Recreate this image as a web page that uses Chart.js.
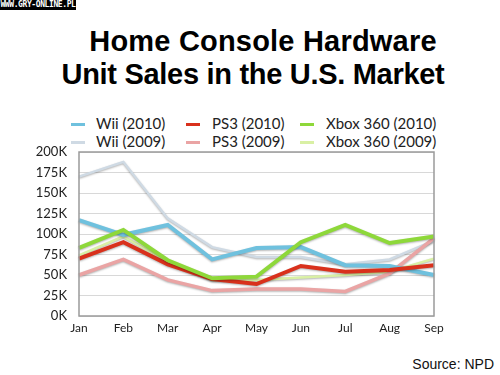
<!DOCTYPE html>
<html>
<head>
<meta charset="utf-8">
<script src="https://cdn.jsdelivr.net/npm/chart.js@4/dist/chart.umd.min.js"></script>
<style>
  body { margin: 0; width: 500px; height: 375px; background: #fff; position: relative; overflow: hidden; font-family: Lato, sans-serif; }
  #wm { position: absolute; left: 0; top: 0; width: 76px; height: 10px; background: #000; color: #fff; font: bold 8px "DejaVu Sans Mono", monospace; line-height: 10px; letter-spacing: -0.4px; text-align: center; }
  .title { position: absolute; width: 500px; text-align: center; font: bold 29px "Liberation Sans", Arial, sans-serif; color: #000; }
  #legend .item { position: absolute; font-size: 15px; color: #222; line-height: 16px; }
  #legend .swatch { position: absolute; width: 14px; height: 3px; }
  #source { position: absolute; right: 6px; top: 356px; font: 14px "Liberation Sans", Arial, sans-serif; color: #111; }
  canvas { position: absolute; left: 0; top: 0; }
</style>
</head>
<body>
<div id="wm">WWW.GRY-ONLINE.PL</div>
<div class="title" style="top:25px; left:13px; letter-spacing:0.2px">Home Console Hardware</div>
<div class="title" style="top:58px; left:3px; letter-spacing:-0.3px">Unit Sales in the U.S. Market</div>
<div id="legend"></div>
<div id="source">Source: NPD</div>
<canvas id="myChart" width="500" height="375"></canvas>
<script>
// values in thousands of units
const months = ['Jan','Feb','Mar','Apr','May','Jun','Jul','Aug','Sep']
const wii2010 = [117, 99, 111, 69, 83, 84, 62, 61, 50]
const wii2009 = [170, 188, 119, 84, 72, 72, 63, 69, 92]
const ps3_2010 = [70, 90, 63, 45, 39, 61, 54, 56, 62]
const ps3_2009 = [50, 69, 44, 31, 33, 33, 30, 52, 95]
const xbox2010 = [83, 105, 68, 46, 48, 90, 111, 89, 97]
const xbox2009 = [74, 97, 66, 44, 44, 47, 50, 54, 70]

const seriesNames = ['Wii (2010)','PS3 (2010)','Xbox 360 (2010)','Wii (2009)','PS3 (2009)','Xbox 360 (2009)']
const seriesColors = ['#6fc1de','#d9311c','#8ed83a','#cfdae4','#eaa4a4','#d9f0a4']
const seriesData = [wii2010, ps3_2010, xbox2010, wii2009, ps3_2009, xbox2009]
const seriesWidth = [4, 4, 4, 2.5, 3.5, 2.5]
const seriesOrder = [2, 1, 0, 4, 3, 5]

// legend, 3 columns x 2 rows
const legCols = [{sw: 71, tx: 96}, {sw: 186, tx: 212}, {sw: 300, tx: 326}]
const legRows = [124, 142]
const legend = document.getElementById('legend')
seriesNames.forEach((name, i) => {
  const c = legCols[i % 3], y = legRows[Math.floor(i / 3)]
  const sw = document.createElement('div')
  sw.className = 'swatch'
  sw.style.left = c.sw + 'px'
  sw.style.top = (y - 1) + 'px'
  sw.style.background = seriesColors[i]
  legend.appendChild(sw)
  const t = document.createElement('div')
  t.className = 'item'
  t.style.left = c.tx + 'px'
  t.style.top = (y - 9) + 'px'
  t.textContent = name
  legend.appendChild(t)
})

const frame = {
  id: 'frame',
  beforeDatasetDraw(chart) {
    const ctx = chart.ctx
    ctx.save()
    ctx.shadowColor = 'rgba(0,0,0,0.3)'
    ctx.shadowBlur = 2
    ctx.shadowOffsetY = 1
  },
  afterDatasetDraw(chart) { chart.ctx.restore() },
  afterDraw(chart) {
    const a = chart.chartArea, ctx = chart.ctx
    ctx.save()
    ctx.strokeStyle = '#9a9a9a'
    ctx.lineWidth = 1.5
    ctx.strokeRect(a.left, a.top, a.right - a.left, a.bottom - a.top)
    ctx.restore()
  }
}

new Chart(document.getElementById('myChart'), {
  type: 'line',
  data: {
    labels: months,
    datasets: seriesData.map((d, i) => ({
      label: seriesNames[i],
      data: d,
      borderColor: seriesColors[i],
      backgroundColor: seriesColors[i],
      borderWidth: seriesWidth[i],
      pointRadius: 0,
      tension: 0,
      order: seriesOrder[i]
    }))
  },
  plugins: [frame],
  options: {
    responsive: false,
    animation: false,
    layout: { padding: { top: 152, right: 66, bottom: 29, left: 0 } },
    plugins: { legend: { display: false }, tooltip: { enabled: false } },
    scales: {
      x: {
        grid: { display: false, drawTicks: false },
        border: { display: false },
        afterFit(s) { s.height = 30 },
        ticks: { padding: 5, color: '#222', font: { family: 'Lato', size: 12 }, maxRotation: 0 }
      },
      y: {
        min: 0, max: 200,
        grid: { color: '#d8d8d8', drawTicks: false },
        border: { display: false },
        afterFit(s) { s.width = 79 },
        ticks: { stepSize: 25, padding: 12, color: '#222', font: { family: 'Lato', size: 13 }, callback: v => v + 'K' }
      }
    }
  }
})
</script>
</body>
</html>
